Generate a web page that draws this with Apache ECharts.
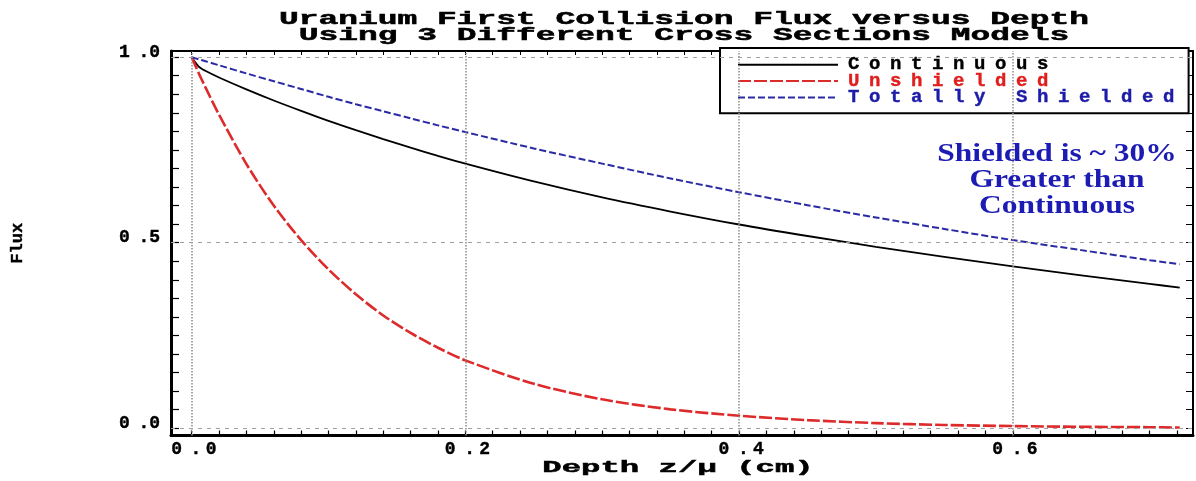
<!DOCTYPE html>
<html><head><meta charset="utf-8">
<script src="https://cdn.jsdelivr.net/npm/echarts@6/dist/echarts.min.js"></script>
<style>html,body{margin:0;padding:0;background:#fff}#c{width:1196px;height:481px}</style>
</head><body><div id="c"></div>
<script>
// ---- data ----
const depth        = [0, 0.005, 0.01, 0.02, 0.04, 0.06, 0.08, 0.10, 0.12, 0.14, 0.16, 0.18, 0.20, 0.25, 0.30, 0.35, 0.40, 0.45, 0.50, 0.55, 0.60, 0.65, 0.70, 0.722];
const continuous   = [1.0, 0.975, 0.963, 0.945, 0.913, 0.883, 0.855, 0.828, 0.803, 0.779, 0.756, 0.734, 0.713, 0.665, 0.622, 0.584, 0.549, 0.518, 0.489, 0.462, 0.436, 0.412, 0.389, 0.379];
const unshielded   = [1.0, 0.958, 0.919, 0.845, 0.712, 0.600, 0.507, 0.428, 0.361, 0.304, 0.257, 0.217, 0.183, 0.120, 0.078, 0.051, 0.034, 0.022, 0.014, 0.009, 0.006, 0.004, 0.003, 0.002];
const shielded     = [1.0, 0.994, 0.989, 0.978, 0.956, 0.935, 0.914, 0.893, 0.873, 0.854, 0.835, 0.816, 0.798, 0.754, 0.713, 0.673, 0.636, 0.601, 0.568, 0.537, 0.507, 0.480, 0.453, 0.442];
const seriesNames  = ['Continuous', 'Unshielded', 'Totally Shielded'];
const xTickValues  = [0, 0.2, 0.4, 0.6];
const xTickLabels  = ['0.0', '0.2', '0.4', '0.6'];
const yTickValues  = [0, 0.5, 1.0];
const yTickLabels  = ['0.0', '0.5', '1.0'];
const titleLines   = ['Uranium First Collision Flux versus Depth', 'Using 3 Different Cross Sections Models'];
const xName = 'Depth z/\u03bc (cm)';
const yName = 'Flux';
const noteLines = ['Shielded is ~ 30%', 'Greater than', 'Continuous'];

// minor tick positions
const xMinor = []; for (let i = 0; i <= 36; i++) xMinor.push(+(i * 0.02).toFixed(2));
const yMinor = []; for (let i = 0; i <= 20; i++) yMinor.push(+(i * 0.05).toFixed(2));

const X_MIN = -0.0151, X_MAX = 0.7317, Y_MIN = -0.0194, Y_MAX = 1.0164;
const MONO = '"Liberation Mono", "DejaVu Sans Mono", monospace';

function cells(s, key, lastKey) {
  return s.split('').map((ch, i) => '{' + (i === s.length - 1 ? lastKey : key) + '|' + ch + '}').join('');
}
function tickRich(color) {
  const base = {fontFamily: MONO, fontWeight: 'bold', fontSize: 18, color: color, lineHeight: 16,
                textBorderColor: color, textBorderWidth: 0.4};
  return {c: Object.assign({width: 19.4}, base), l: Object.assign({}, base)};
}

const chart = echarts.init(document.getElementById('c'), null, {renderer: 'canvas'});

const legendKeys = {'Continuous': ['k', 'kl'], 'Unshielded': ['u', 'ul'], 'Totally Shielded': ['t', 'tl']};
const legendRich = {};
[['k', '#000000'], ['u', '#e01e1e'], ['t', '#1c1ca8']].forEach(([k, col]) => {
  const base = {fontFamily: MONO, fontWeight: 'bold', fontSize: 19, color: col, lineHeight: 14,
                textBorderColor: col, textBorderWidth: 0.4};
  legendRich[k] = Object.assign({width: 21}, base);
  legendRich[k + 'l'] = Object.assign({}, base);
});

function axisCommon(lineWidth) {
  return {axisLine: {onZero: false, lineStyle: {color: '#000', width: lineWidth}}, splitLine: {show: false}};
}

const option = {
  animation: false,
  backgroundColor: '#fff',
  grid: {left: 171, top: 51, right: 3, bottom: 45.5, containLabel: false},
  xAxis: [
    Object.assign(axisCommon(3), {
      type: 'value', position: 'bottom', min: X_MIN, max: X_MAX,
      axisTick: {inside: true, length: 5, customValues: xMinor, lineStyle: {color: '#000', width: 1.2}},
      axisLabel: {customValues: xTickValues, margin: 6, fontSize: 18,
        formatter: v => { const i = xTickValues.indexOf(v); return cells(i >= 0 ? xTickLabels[i] : v.toFixed(1), 'c', 'l'); },
        rich: tickRich('#000')}
    }),
    Object.assign(axisCommon(2), {
      type: 'value', position: 'top', min: X_MIN, max: X_MAX,
      axisTick: {inside: true, length: 4, customValues: xMinor, lineStyle: {color: '#000', width: 1}},
      axisLabel: {show: false}
    })
  ],
  yAxis: [
    Object.assign(axisCommon(3), {
      type: 'value', position: 'left', min: Y_MIN, max: Y_MAX,
      name: yName, nameLocation: 'middle', nameRotate: 90, nameGap: 145,
      nameTextStyle: {fontFamily: MONO, fontWeight: 'bold', fontSize: 17, color: '#000', textBorderColor: '#000', textBorderWidth: 0.4},
      axisTick: {inside: true, length: 8, customValues: yMinor, lineStyle: {color: '#000', width: 1.2}},
      axisLabel: {customValues: yTickValues, margin: 11, fontSize: 18, padding: [0, 0, 10, 0],
        formatter: v => { const i = yTickValues.indexOf(v); return cells(i >= 0 ? yTickLabels[i] : v.toFixed(1), 'c', 'l'); },
        rich: tickRich('#000')}
    }),
    Object.assign(axisCommon(2), {
      type: 'value', position: 'right', min: Y_MIN, max: Y_MAX,
      axisTick: {inside: true, length: 7, customValues: yMinor, lineStyle: {color: '#000', width: 1}},
      axisLabel: {show: false}
    })
  ],
  legend: {
    orient: 'vertical', left: 720, top: 48, padding: [7, 14, 6, 17],
    itemWidth: 100, itemHeight: 14, itemGap: -3,
    backgroundColor: '#fff', borderColor: '#000', borderWidth: 2, borderRadius: 0,
    itemStyle: {opacity: 0},
    data: seriesNames,
    formatter: name => cells(name, legendKeys[name][0], legendKeys[name][1]),
    textStyle: {fontFamily: MONO, fontWeight: 'bold', fontSize: 19, lineHeight: 14, padding: [0, 0, 0, 5], rich: legendRich}
  },
  graphic: [
    {type: 'text', x: 684, y: 27, scaleX: 1.78, z: 10,
     style: {text: titleLines.join('\n'), font: 'bold 18.5px ' + MONO, fill: '#000', stroke: '#000', lineWidth: 0.5,
             textAlign: 'center', textVerticalAlign: 'middle', lineHeight: 16}},
    {type: 'text', x: 678, y: 468, scaleX: 1.9, z: 10,
     style: {text: xName, font: 'bold 17px ' + MONO, fill: '#000', stroke: '#000', lineWidth: 0.5,
             textAlign: 'center', textVerticalAlign: 'middle'}},
    {type: 'text', x: 1057, y: 181, scaleX: 1.26, z: 10,
     style: {text: noteLines.join('\n'), font: 'bold 25px "Liberation Serif", serif', fill: '#1c1cb4', textAlign: 'center', textVerticalAlign: 'middle', lineHeight: 26}}
  ],
  series: [
    {type: 'line', name: '_grid', data: [], silent: true, z: 1, symbol: 'none',
     markLine: {silent: true, symbol: 'none', label: {show: false}, animation: false,
       data: xTickValues.map(v => ({xAxis: v, lineStyle: {type: 'dotted', color: '#8a8a8a', width: 1.5}}))
         .concat(yTickValues.map(v => ({yAxis: v, lineStyle: {type: [4, 5], color: '#a0a0a0', width: 1.2}})))}},
    {type: 'line', name: seriesNames[0], data: depth.map((d, i) => [d, continuous[i]]), symbol: 'none', showSymbol: false, smooth: 0.3, z: 3,
     lineStyle: {color: '#000', width: 1.8}, itemStyle: {color: '#000'}},
    {type: 'line', name: seriesNames[1], data: depth.map((d, i) => [d, unshielded[i]]), symbol: 'none', showSymbol: false, smooth: 0.3, z: 3,
     lineStyle: {color: '#dd2a2a', width: 2.6, type: [13, 3]}, itemStyle: {color: '#dd2a2a'}},
    {type: 'line', name: seriesNames[2], data: depth.map((d, i) => [d, shielded[i]]), symbol: 'none', showSymbol: false, smooth: 0.3, z: 3,
     lineStyle: {color: '#2a2aa5', width: 2, type: [7, 3]}, itemStyle: {color: '#2a2aa5'}}
  ]
};
chart.setOption(option);
</script></body></html>
